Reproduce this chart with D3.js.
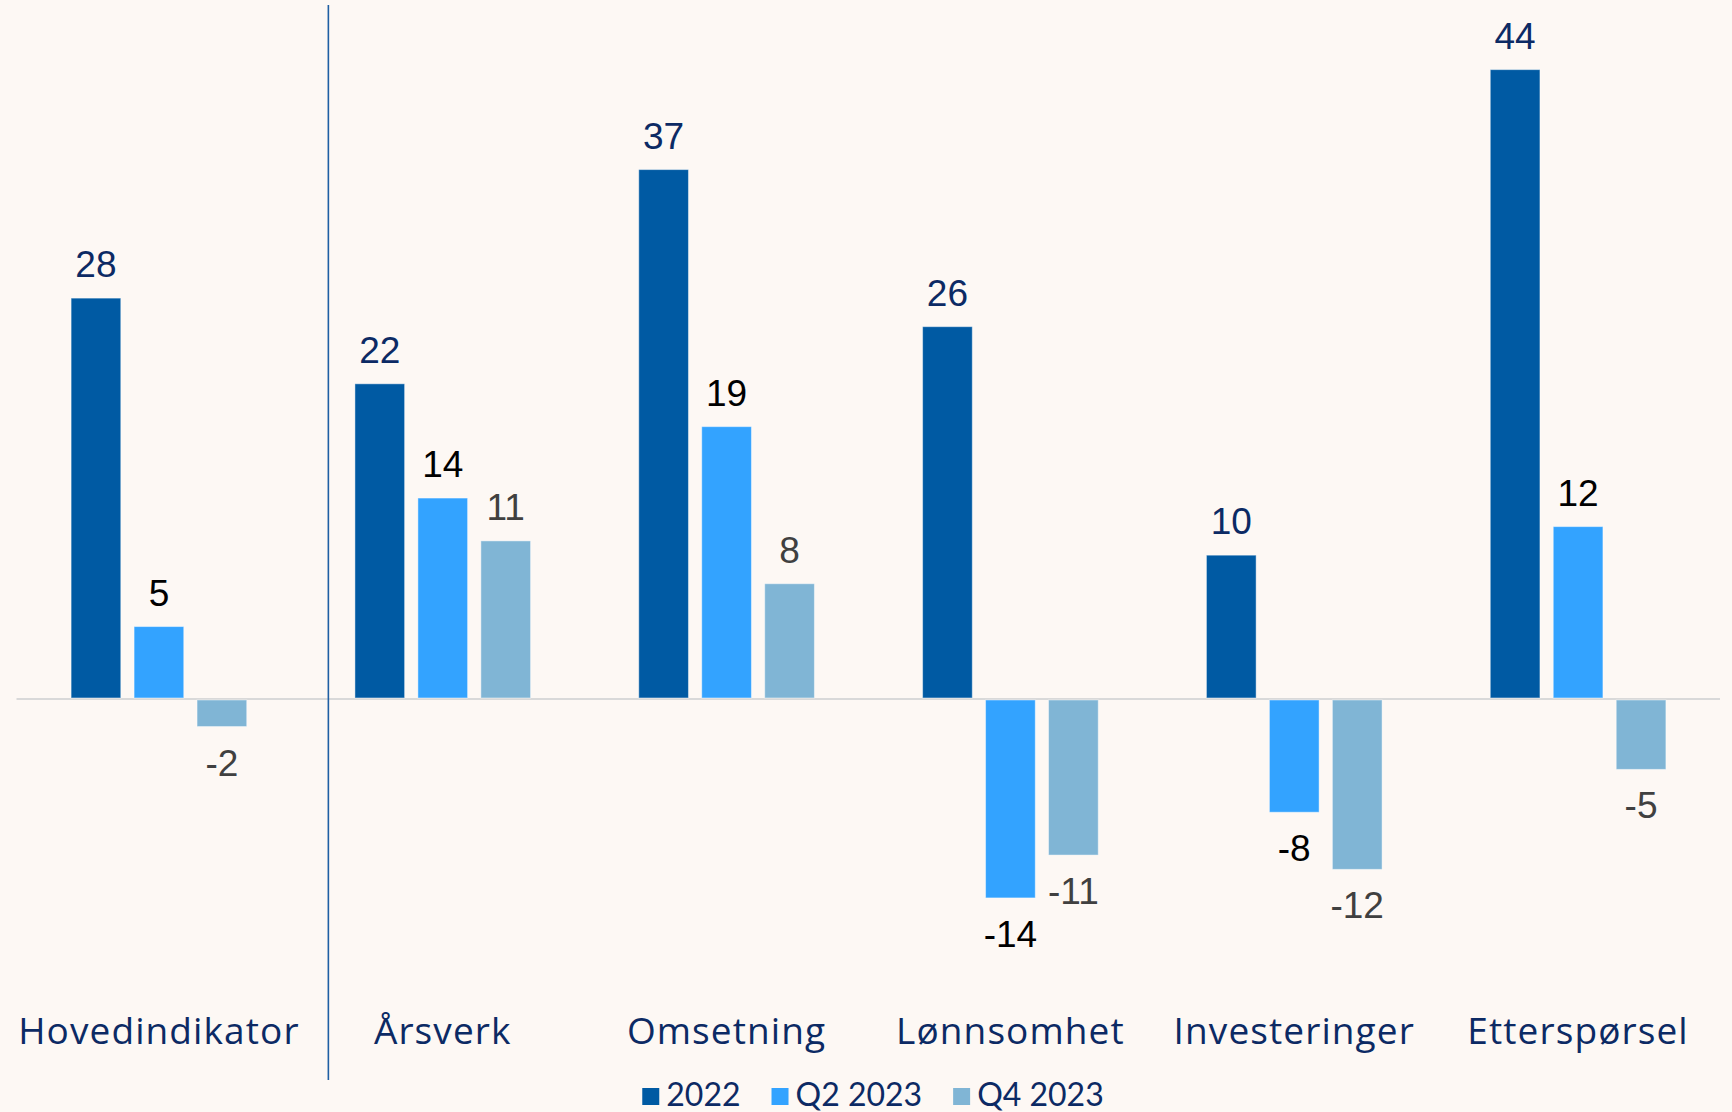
<!DOCTYPE html>
<html>
<head>
<meta charset="utf-8">
<script src="https://cdn.jsdelivr.net/npm/d3@7"></script>
<style>
  html, body { margin: 0; padding: 0; background: #fdf8f4; }
  svg { display: block; }
</style>
</head>
<body>
<script>
const categories = ["Hovedindikator", "Årsverk", "Omsetning", "Lønnsomhet", "Investeringer", "Etterspørsel"];
const seriesNames = ["2022", "Q2 2023", "Q4 2023"];
const values2022 = [28, 22, 37, 26, 10, 44];
const valuesQ2_2023 = [5, 14, 19, -14, -8, 12];
const valuesQ4_2023 = [-2, 11, 8, -11, -12, -5];

const seriesValues = [values2022, valuesQ2_2023, valuesQ4_2023];
const barColors = ["#005aa3", "#33a3ff", "#80b5d5"];
const labelColors = ["#0c2a64", "#000000", "#404040"];
const navy = "#0c2a64";

const W = 1732, H = 1112;
const svg = d3.select("body").append("svg").attr("width", W).attr("height", H);
svg.append("rect").attr("width", W).attr("height", H).attr("fill", "#fdf8f4");

const x0 = d3.scaleBand().domain(categories).range([17, 1720]).paddingInner(0).paddingOuter(0);
const x1 = d3.scaleBand().domain(seriesNames).range([0, x0.bandwidth()]).paddingInner(0.211).paddingOuter(0.859);
const y = d3.scaleLinear().domain([-20, 48]).range([983.6, 12.5]);

const data = [];
categories.forEach((c, i) => {
  seriesNames.forEach((s, j) => {
    data.push({ cat: c, series: s, si: j, value: seriesValues[j][i] });
  });
});

// zero line
svg.append("line")
  .attr("x1", x0.range()[0] - 0.5).attr("x2", x0.range()[1])
  .attr("y1", y(0) + 1).attr("y2", y(0) + 1)
  .attr("stroke", "#d9d9d9").attr("stroke-width", 2);

// bars
svg.append("g").selectAll("rect").data(data).join("rect")
  .attr("x", d => x0(d.cat) + x1(d.series))
  .attr("width", x1.bandwidth())
  .attr("y", d => d.value >= 0 ? y(d.value) : y(0) + 2)
  .attr("height", d => d.value >= 0 ? y(0) - y(d.value) : y(d.value) - y(0) - 2)
  .attr("fill", d => barColors[d.si])
  .attr("stroke", "rgba(255,255,255,0.45)")
  .attr("stroke-width", 1);

// value labels
svg.append("g").selectAll("text").data(data).join("text")
  .attr("x", d => x0(d.cat) + x1(d.series) + x1.bandwidth() / 2)
  .attr("y", d => d.value >= 0 ? y(d.value) - 21 : y(d.value) + 49)
  .attr("text-anchor", "middle")
  .attr("font-family", "Liberation Sans, Arial, sans-serif")
  .attr("font-size", 37)
  .attr("fill", d => labelColors[d.si])
  .text(d => d.value);

// divider line
const divX = x0(categories[1]) + x0.bandwidth() * 0.097;
svg.append("line")
  .attr("x1", divX).attr("x2", divX)
  .attr("y1", 5).attr("y2", 1080)
  .attr("stroke", "#1f5fa3").attr("stroke-width", 1.6);

// category labels
svg.append("g").selectAll("text").data(categories).join("text")
  .attr("x", d => x0(d) + x0.bandwidth() / 2)
  .attr("y", 1044)
  .attr("text-anchor", "middle")
  .attr("font-family", "'Open Sans', Lato, sans-serif")
  .attr("font-size", 37)
  .attr("letter-spacing", 1.1)
  .attr("fill", navy)
  .text(d => d);

// legend
const legend = svg.append("g");
const items = legend.selectAll("g").data(seriesNames).join("g");
items.append("rect").attr("width", 17).attr("height", 17).attr("y", 1088)
  .attr("fill", (d, i) => barColors[i]);
items.append("text").attr("x", 24).attr("y", 1106)
  .attr("font-family", "Lato, 'Noto Sans', sans-serif")
  .attr("font-size", 32)
  .attr("fill", navy)
  .text(d => d);
const widths = [];
items.each(function () {
  const tw = d3.select(this).select("text").node().getComputedTextLength();
  widths.push(24 + tw);
});
const gap = 31;
const total = d3.sum(widths) + gap * (widths.length - 1);
let start = 873 - total / 2;
items.attr("transform", (d, i) => {
  const t = `translate(${start},0)`;
  start += widths[i] + gap;
  return t;
});
</script>
</body>
</html>
